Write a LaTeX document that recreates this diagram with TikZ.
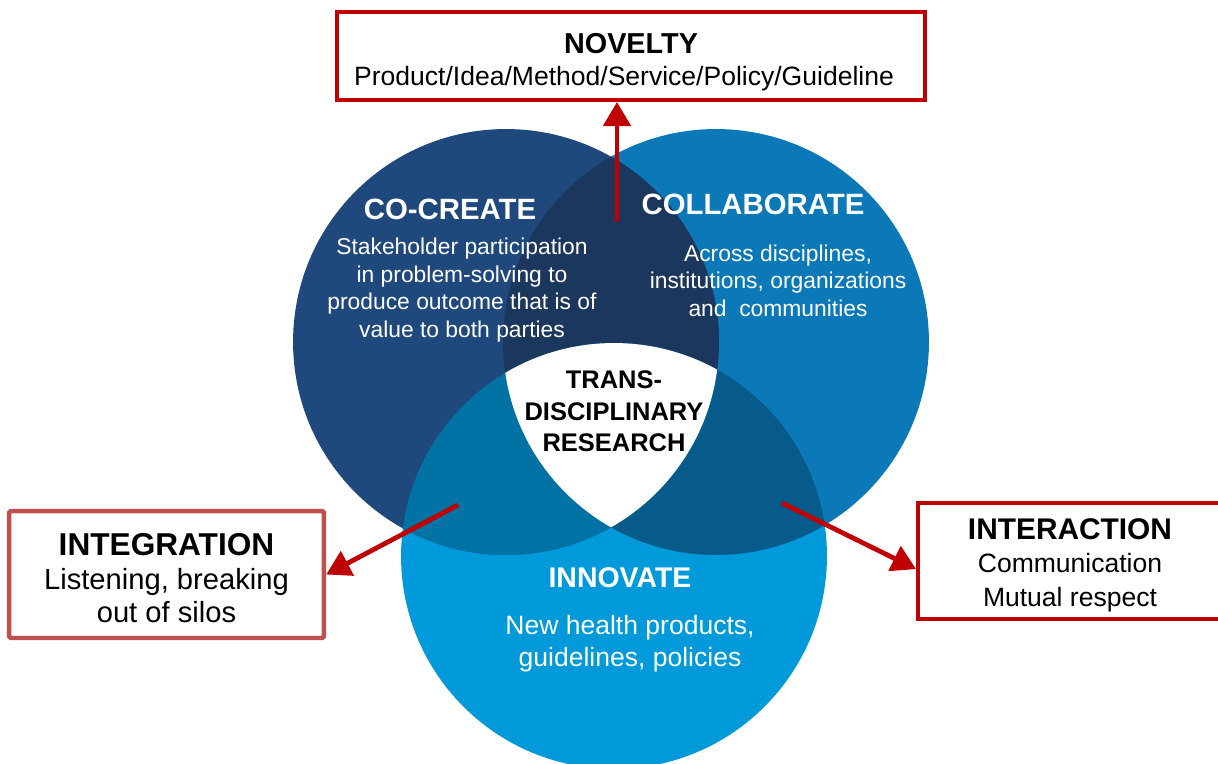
\documentclass[tikz,border=0pt]{standalone}
\usepackage{fontspec}
\setmainfont{Liberation Sans}
\usetikzlibrary{arrows.meta,positioning}

\definecolor{cocreateblue}{HTML}{1F497D}
\definecolor{collabblue}{HTML}{0B78B8}
\definecolor{innovblue}{HTML}{009ADA}
\definecolor{cocollabblue}{HTML}{1B375E}
\definecolor{coinnovblue}{HTML}{0072A4}
\definecolor{collabinnovblue}{HTML}{065B8A}
\definecolor{novred}{HTML}{C00000}
\definecolor{integred}{HTML}{C0504D}

\newcommand{\setfs}[2]{\fontsize{#1}{#2}\selectfont}
\newcommand{\circrad}{4.26cm}

\tikzset{
  circlehead/.style={text=white, font=\setfs{16.7}{20}\bfseries},
  circletext/.style={text=white, align=center, font=\setfs{13}{15.6}},
  redbox/.style={draw=novred, line width=2.3pt, fill=white, align=center, inner sep=0pt},
  redarrow/.style={draw=novred, line width=2.7pt, -{Triangle[length=0.48cm,width=0.54cm]}},
}

\begin{document}
\begin{tikzpicture}[x=0.02cm, y=-0.02cm]
  \useasboundingbox (0,0) rectangle (1218,764);
  \clip (0,0) rectangle (1218,764);

  \coordinate (cocreatec) at (506,342);
  \coordinate (collabc) at (716,342);
  \coordinate (innovc) at (614,556);

  % circles
  \fill[innovblue] (innovc) circle[radius=\circrad];
  \fill[collabblue] (collabc) circle[radius=\circrad];
  \fill[cocreateblue] (cocreatec) circle[radius=\circrad];
  % overlaps
  \begin{scope}
    \clip (cocreatec) circle[radius=\circrad];
    \fill[cocollabblue] (collabc) circle[radius=\circrad];
    \fill[coinnovblue] (innovc) circle[radius=\circrad];
  \end{scope}
  \begin{scope}
    \clip (collabc) circle[radius=\circrad];
    \fill[collabinnovblue] (innovc) circle[radius=\circrad];
    \clip (cocreatec) circle[radius=\circrad];
    \fill[white] (innovc) circle[radius=\circrad];
  \end{scope}

  % circle texts
  \node[circlehead] (cocreate) at (450,209.5) {CO-CREATE};
  \node[circletext] (cocreatetext) at (462,290) {Stakeholder participation\\in problem-solving to\\produce outcome that is of\\value to both parties};
  \node[circlehead] (collaborate) at (753,204.5) {COLLABORATE};
  \node[circletext] (collabtext) at (778,280.5) {Across disciplines,\\institutions, organizations\\and~ communities};
  \node[align=center, font=\setfs{14.5}{17.9}\bfseries] (tdr) at (614,411.5) {TRANS-\\DISCIPLINARY\\RESEARCH};
  \node[circlehead, font=\setfs{16.2}{19}\bfseries] (innovate) at (620,578) {INNOVATE};
  \node[circletext, font=\setfs{15.1}{18.1}] (innovtext) at (630,644) {New health products,\\guidelines, policies};

  % boxes
  \node[redbox, minimum width=11.76cm, minimum height=1.76cm, font=\setfs{15.1}{18.7}] (novelty) at (631,56)
    {{\setfs{16.4}{19}\bfseries\rule{0pt}{18.5pt}NOVELTY}\\Product/Idea/Method/Service/Policy/Guideline\hspace*{0.28cm}};
  \node[redbox, draw=integred, line width=2.55pt, rounded corners=1pt, minimum width=6.3cm, minimum height=2.54cm, font=\setfs{16.6}{19}] (integration) at (166.5,574.5)
    {{\setfs{18}{20}\bfseries\rule{0pt}{16.9pt}INTEGRATION}\\Listening, breaking\\out of silos};
  \node[redbox, minimum width=6.08cm, minimum height=2.32cm, font=\setfs{15.1}{19}] (interaction) at (1070,561)
    {{\setfs{17}{20}\bfseries\rule{0pt}{16.7pt}INTERACTION}\\Communication\\Mutual respect};

  % arrows
  \coordinate (novstart) at (617,222);
  \coordinate (integstart) at (458,505);
  \coordinate (interstart) at (782,503);
  \draw[redarrow] (novstart) -- (novstart |- novelty.south);
  \draw[redarrow] (integstart) -- (integration.east);
  \draw[redarrow] (interstart) -- (interaction.183);
\end{tikzpicture}
\end{document}
